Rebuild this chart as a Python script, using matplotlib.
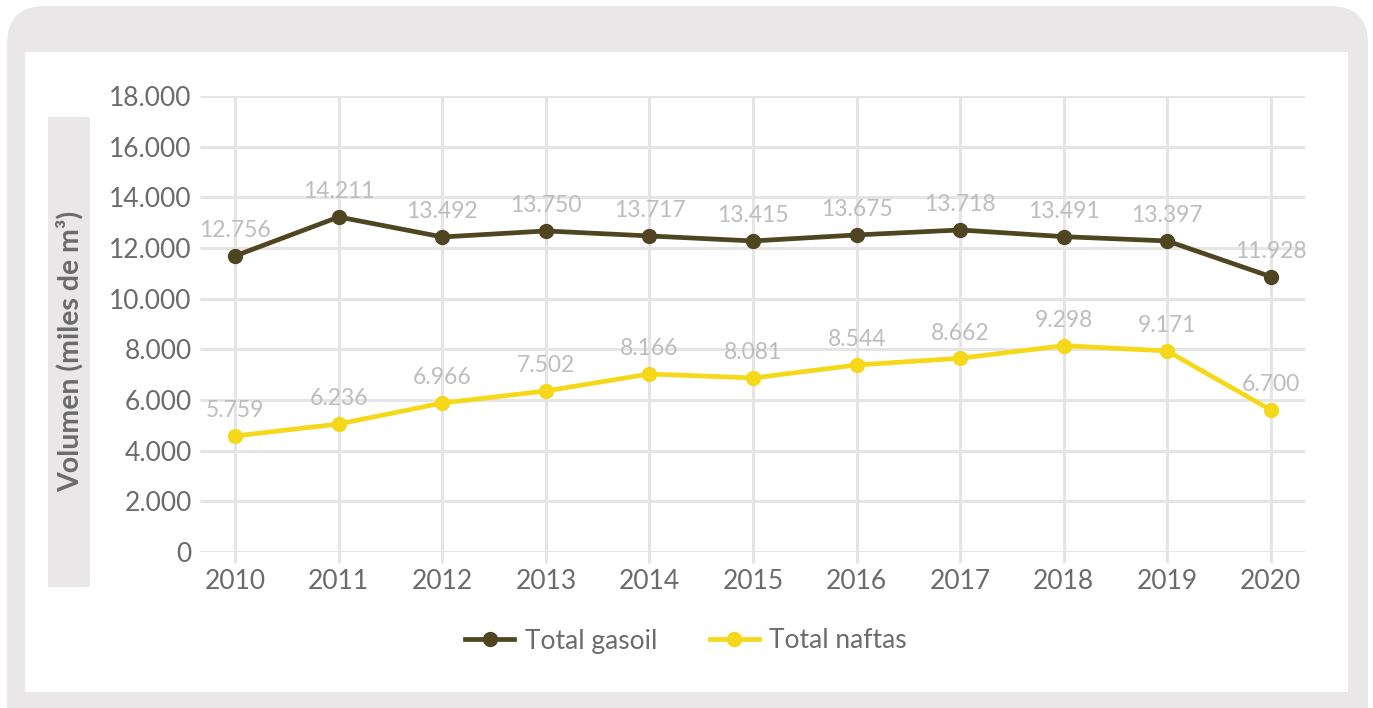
import numpy as np
import matplotlib
matplotlib.use("Agg")
import matplotlib.pyplot as plt
from matplotlib.patches import FancyBboxPatch, Rectangle
from matplotlib.lines import Line2D

plt.rcParams["font.family"] = ["Lato", "DejaVu Sans"]

years = ["2010", "2011", "2012", "2013", "2014", "2015",
         "2016", "2017", "2018", "2019", "2020"]
gasoil = [11690, 13225, 12435, 12673, 12475, 12278, 12515, 12712, 12448, 12278, 10869]
naftas = [4580, 5053, 5882, 6356, 7027, 6869, 7382, 7647, 8145, 7935, 5606]
gasoil_labels = ["12.756", "14.211", "13.492", "13.750", "13.717", "13.415",
                 "13.675", "13.718", "13.491", "13.397", "11.928"]
naftas_labels = ["5.759", "6.236", "6.966", "7.502", "8.166", "8.081",
                 "8.544", "8.662", "9.298", "9.171", "6.700"]
y_ticks = [0, 2000, 4000, 6000, 8000, 10000, 12000, 14000, 16000, 18000]
y_ticklabels = ["0", "2.000", "4.000", "6.000", "8.000", "10.000",
                "12.000", "14.000", "16.000", "18.000"]

c_gasoil = "#4f4520"
c_naftas = "#f5d819"
c_grid = "#e6e4e5"
c_frame = "#e9e7e8"
c_text = "#6b6b6b"
c_label = "#bdbdbd"

W, H = 1373, 708
fig = plt.figure(figsize=(W / 100, H / 100), dpi=100, facecolor="white")

# ── background frame (pixel coordinates) ───────────────────────────────────
bg = fig.add_axes([0, 0, 1, 1])
bg.set_xlim(0, W)
bg.set_ylim(H, 0)
bg.axis("off")
bg.add_patch(FancyBboxPatch((7, 6), 1361, 740,
                            boxstyle="round,pad=0,rounding_size=38",
                            facecolor=c_frame, edgecolor="none"))
bg.add_patch(Rectangle((25, 52), 1323, 640, facecolor="white", edgecolor="none"))
bg.add_patch(Rectangle((48, 117), 42, 470, facecolor=c_frame, edgecolor="none"))
bg.text(70, 351, "Volumen (miles de m³)", rotation=90, ha="center", va="center",
        fontsize=20.5, fontweight="bold", color=c_text)

# ── main axes ──────────────────────────────────────────────────────────────
left, right, top, bottom = 200, 1305, 96, 552
ax = fig.add_axes([left / W, 1 - bottom / H, (right - left) / W, (bottom - top) / H])
ax.set_facecolor("none")
x = np.arange(len(years))
ax.set_xlim(-0.34, len(years) - 1 + 0.33)
ax.set_ylim(0, 18000)

ax.hlines(y_ticks, -0.34, len(years) - 1 + 0.33, color=c_grid, lw=2.2, zorder=1)
ax.vlines(x, -450, 18000, color=c_grid, lw=2.2, zorder=1, clip_on=False)

ax.plot(x, gasoil, color=c_gasoil, lw=3.4, marker="o", ms=10, zorder=3, clip_on=False)
ax.plot(x, naftas, color=c_naftas, lw=3.4, marker="o", ms=10, zorder=3, clip_on=False)

for xi, v, lab in zip(x, gasoil, gasoil_labels):
    ax.annotate(lab, (xi, v), xytext=(0, 18), textcoords="offset points",
                ha="center", va="center", fontsize=16.5, color=c_label, zorder=4)
for xi, v, lab in zip(x, naftas, naftas_labels):
    ax.annotate(lab, (xi, v), xytext=(0, 18), textcoords="offset points",
                ha="center", va="center", fontsize=16.5, color=c_label, zorder=4)

ax.set_yticks(y_ticks)
ax.set_yticklabels(y_ticklabels)
ax.set_xticks(x)
ax.set_xticklabels(years)
ax.tick_params(axis="y", length=0, pad=6, labelsize=19, labelcolor=c_text)
ax.tick_params(axis="x", length=0, pad=12, labelsize=19, labelcolor=c_text)
for sp in ax.spines.values():
    sp.set_visible(False)

handles = [
    Line2D([], [], color=c_gasoil, lw=3.4, marker="o", ms=10, label="Total gasoil"),
    Line2D([], [], color=c_naftas, lw=3.4, marker="o", ms=10, label="Total naftas"),
]
fig.legend(handles=handles, loc="center", bbox_to_anchor=(686 / W, 1 - 641 / H),
           ncol=2, frameon=False, fontsize=19, labelcolor=c_text,
           handlelength=1.85, handletextpad=0.4, columnspacing=2.0)

fig.savefig("out.png", dpi=100, facecolor="white")
